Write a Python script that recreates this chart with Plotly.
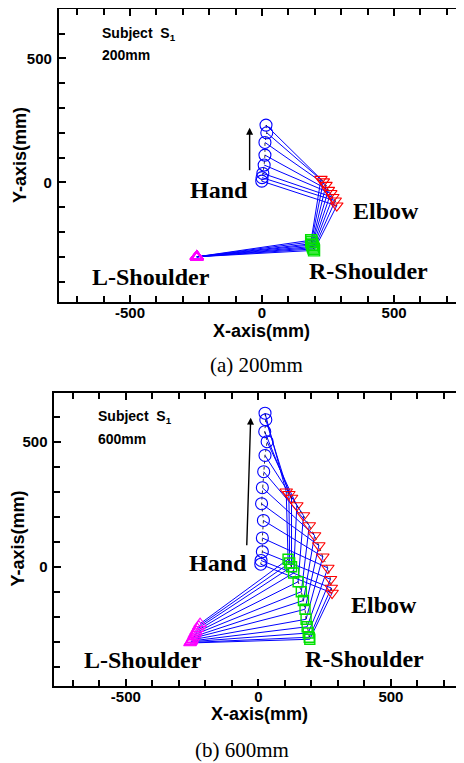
import plotly.graph_objects as go

# ---------------- Panel (a): 200mm ----------------
a_hand_x = [15, 18, 11, 11, 8, 3, 0, -1]
a_hand_y = [231, 200, 161, 110, 70, 36, 19, 5]
a_elbow_x = [223, 232, 242, 251, 260, 268, 277, 283]
a_elbow_y = [13, 3, -11, -31, -44, -60, -74, -94]
a_rsh_x = [186, 187, 189, 190, 192, 194, 196, 197]
a_rsh_y = [-233, -240, -247, -252, -258, -263, -268, -274]
a_lsh_x = [-247, -247, -247, -247, -247, -247, -247, -247]
a_lsh_y = [-300, -300, -300, -300, -300, -300, -300, -300]

# ---------------- Panel (b): 600mm ----------------
b_hand_x = [25, 28, 24, 33, 25, 20, 15, 12, 19, 15, 15, 10, 9]
b_hand_y = [614, 588, 540, 500, 445, 380, 316, 252, 185, 115, 60, 25, 10]
b_elbow_x = [105, 115, 125, 145, 170, 192, 212, 228, 243, 262, 272, 275, 278]
b_elbow_y = [300, 290, 275, 245, 205, 165, 125, 85, 40, -5, -50, -85, -105]
b_rsh_x = [112, 118, 125, 133, 150, 162, 170, 176, 180, 184, 188, 192, 194]
b_rsh_y = [30, 15, 0, -25, -60, -100, -135, -170, -210, -240, -265, -282, -290]
b_lsh_x = [-220, -225, -230, -235, -238, -242, -245, -248, -251, -253, -255, -257, -258]
b_lsh_y = [-228, -238, -248, -258, -265, -272, -280, -286, -292, -297, -300, -303, -305]

x_tickvals = [-500, 0, 500]
x_ticktext = ["-500", "0", "500"]
y_tickvals = [-500, 0, 500]
y_ticktext = ["-500", "0", "500"]

fig = go.Figure()


def add_panel(xa, ya, hx, hy, ex, ey, rx, ry, lx, ly, lsh_width, sq_size):
    sx, sy = [], []
    for i in range(len(hx)):
        sx += [lx[i], rx[i], ex[i], hx[i], None]
        sy += [ly[i], ry[i], ey[i], hy[i], None]
    fig.add_trace(go.Scatter(x=sx, y=sy, mode="lines", xaxis=xa, yaxis=ya,
                             line=dict(color="#0000ff", width=1), hoverinfo="skip",
                             showlegend=False))
    for tx, ty in [(hx, hy), (ex, ey), (rx, ry)]:
        fig.add_trace(go.Scatter(x=tx, y=ty, mode="lines", xaxis=xa, yaxis=ya,
                                 line=dict(color="black", width=0.8, dash="dot"),
                                 showlegend=False, hoverinfo="skip"))
    fig.add_trace(go.Scatter(x=hx, y=hy, mode="markers", xaxis=xa, yaxis=ya,
                             marker=dict(symbol="circle-open", size=12, color="#0000ff",
                                         line=dict(width=1.1, color="#0000ff")),
                             showlegend=False))
    fig.add_trace(go.Scatter(x=ex, y=ey, mode="markers", xaxis=xa, yaxis=ya,
                             marker=dict(symbol="triangle-down-open", size=11, color="#ff0000",
                                         line=dict(width=1.1, color="#ff0000")),
                             showlegend=False))
    fig.add_trace(go.Scatter(x=rx, y=ry, mode="markers", xaxis=xa, yaxis=ya,
                             marker=dict(symbol="square-open", size=sq_size, color="#00e000",
                                         line=dict(width=1.4, color="#00e000")),
                             showlegend=False))
    fig.add_trace(go.Scatter(x=lx, y=ly, mode="markers", xaxis=xa, yaxis=ya,
                             marker=dict(symbol="triangle-up-open", size=11, color="#ff00ff",
                                         line=dict(width=lsh_width, color="#ff00ff")),
                             showlegend=False))


add_panel("x", "y", a_hand_x, a_hand_y, a_elbow_x, a_elbow_y,
          a_rsh_x, a_rsh_y, a_lsh_x, a_lsh_y, 2, 11)
add_panel("x2", "y2", b_hand_x, b_hand_y, b_elbow_x, b_elbow_y,
          b_rsh_x, b_rsh_y, b_lsh_x, b_lsh_y, 1.1, 10)

# the page body has an 8px margin: figure is 8px smaller than the window
OFF = 8
W, H = 464 - OFF, 763 - OFF


def px_x(p):
    return (p - OFF) / W


def px_y(p):
    return 1 - (p - OFF) / H


def axis_cfg(domain, rng, anchor, tv, tt, standoff):
    return dict(domain=domain, range=rng, anchor=anchor, showgrid=False, zeroline=False,
                showline=True, linecolor="black", linewidth=1.6, mirror="allticks",
                ticks="inside", ticklen=7, tickwidth=1.5, tickcolor="black",
                tickmode="array", tickvals=tv, ticktext=tt, ticklabelstandoff=standoff,
                tickfont=dict(family="Liberation Sans", size=15, color="black", weight="bold"),
                minor=dict(tickmode="linear", tick0=0, dtick=100, ticks="inside",
                           ticklen=6, tickwidth=1.5, tickcolor="black"),
                fixedrange=True)


fig.update_layout(
    width=W, height=H, margin=dict(l=0, r=0, t=0, b=0),
    paper_bgcolor="white", plot_bgcolor="white", showlegend=False,
    xaxis=axis_cfg([px_x(58.7), px_x(463)], [-770, 761], "y", x_tickvals, x_ticktext, -4),
    yaxis=axis_cfg([px_y(301.7), px_y(9)], [-481, 699], "x", y_tickvals, y_ticktext, 2),
    xaxis2=axis_cfg([px_x(54.3), px_x(463)], [-770, 772], "y2", x_tickvals, x_ticktext, -4),
    yaxis2=axis_cfg([px_y(686), px_y(392.7)], [-477, 696], "x2", y_tickvals, y_ticktext, 2),
)

serif = dict(family="Liberation Serif", size=24, color="black", weight="bold")
sans = dict(family="Liberation Sans", size=14, color="black", weight="bold")
ann = []


def label(xr, yr, x, y, text, font, xanchor="center"):
    ann.append(dict(xref=xr, yref=yr, x=x, y=y, text=text, showarrow=False,
                    font=font, xanchor=xanchor, yanchor="middle"))


label("x", "y", -162, -31, "Hand", serif)
label("x", "y", 468, -116, "Elbow", serif)
label("x", "y", -420, -382, "L-Shoulder", serif)
label("x", "y", 405, -357, "R-Shoulder", serif)
label("x", "y", -614, 598, "Subject  S<sub>1</sub>", sans, "left")
label("x", "y", -614, 513, "200mm", sans, "left")
label("x2", "y2", -154, 16, "Hand", serif)
label("x2", "y2", 474, -153, "Elbow", serif)
label("x2", "y2", -434, -371, "L-Shoulder", serif)
label("x2", "y2", 400, -369, "R-Shoulder", serif)
label("x2", "y2", -612, 598, "Subject  S<sub>1</sub>", sans, "left")
label("x2", "y2", -612, 510, "600mm", sans, "left")

ann.append(dict(xref="x", yref="y", axref="x", ayref="y", x=-47, y=220, ax=-47, ay=43,
                showarrow=True, arrowhead=2, arrowsize=1, arrowwidth=1.4, arrowcolor="black", text=""))
ann.append(dict(xref="x2", yref="y2", axref="x2", ayref="y2", x=-29, y=596, ax=-44, ay=80,
                showarrow=True, arrowhead=2, arrowsize=1, arrowwidth=1.4, arrowcolor="black", text=""))

title_font = dict(family="Liberation Sans", size=18, color="black", weight="bold")
for (xp, yp) in [(262, 331), (259, 714)]:
    ann.append(dict(xref="paper", yref="paper", x=px_x(xp), y=px_y(yp), text="X-axis(mm)",
                    showarrow=False, font=title_font, xanchor="center", yanchor="middle"))
for (xp, yp) in [(20, 155), (17.5, 539)]:
    ann.append(dict(xref="paper", yref="paper", x=px_x(xp), y=px_y(yp), text="Y-axis(mm)",
                    textangle=-90, showarrow=False, font=title_font,
                    xanchor="center", yanchor="middle"))

cap_font = dict(family="Liberation Serif", size=21, color="black")
ann.append(dict(xref="paper", yref="paper", x=px_x(256), y=px_y(365), text="(a) 200mm",
                showarrow=False, font=cap_font, xanchor="center", yanchor="middle"))
ann.append(dict(xref="paper", yref="paper", x=px_x(242), y=px_y(750), text="(b) 600mm",
                showarrow=False, font=cap_font, xanchor="center", yanchor="middle"))

fig.update_layout(annotations=ann)
fig.write_html("out.html")
